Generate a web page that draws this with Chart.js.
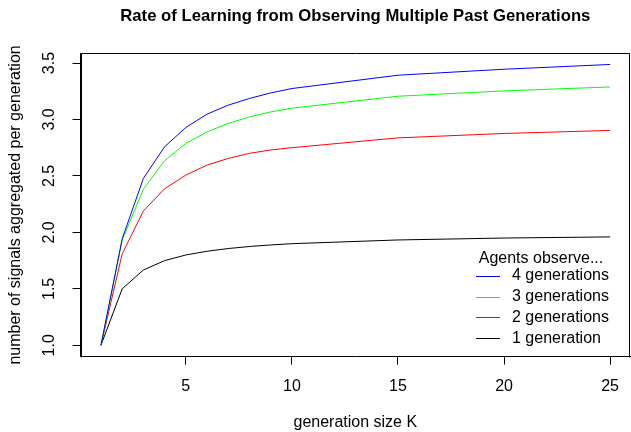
<!DOCTYPE html>
<html><head><meta charset="utf-8">
<script src="https://cdn.jsdelivr.net/npm/chart.js@4/dist/chart.umd.min.js"></script>
<style>html,body{margin:0;padding:0;background:#fff}canvas{display:block}</style>
</head><body>
<canvas id="c" width="631" height="432"></canvas>
<script>
const K = [1, 2, 3, 4, 5, 6, 7, 8, 9, 10, 15, 20, 25];
const gen4 = [1, 1.943, 2.478, 2.758, 2.929, 3.047, 3.127, 3.186, 3.235, 3.274, 3.392, 3.445, 3.487];
const gen3 = [1, 1.93, 2.383, 2.634, 2.788, 2.89, 2.965, 3.023, 3.067, 3.10, 3.206, 3.253, 3.288];
const gen2 = [1, 1.81, 2.19, 2.386, 2.507, 2.596, 2.655, 2.70, 2.73, 2.75, 2.837, 2.876, 2.903];
const gen1 = [1, 1.5, 1.667, 1.75, 1.8, 1.833, 1.857, 1.875, 1.889, 1.9, 1.933, 1.95, 1.96];
const xTicks = [5, 10, 15, 20, 25];
const yTicks = [1.0, 1.5, 2.0, 2.5, 3.0, 3.5];
const seriesLabels = ['4 generations', '3 generations', '2 generations', '1 generation'];
const seriesColors = ['#0000ff', '#00ff00', '#ff0000', '#000000'];
const titleText = 'Rate of Learning from Observing Multiple Past Generations';
const xTitle = 'generation size K';
const yTitle = 'number of signals aggregated per generation';
const legendTitle = 'Agents observe...';

const FONT = '"Liberation Sans", Arial, Helvetica, sans-serif';
const series = [gen4, gen3, gen2, gen1];

const datasets = series.map((s, i) => ({
  label: seriesLabels[i],
  data: K.map((k, j) => ({x: k, y: s[j]})),
  borderColor: seriesColors[i],
  backgroundColor: seriesColors[i],
  borderWidth: 1,
  pointRadius: 0,
  tension: 0,
  fill: false
}));

const rText = {
  id: 'rText',
  afterDraw(chart) {
    const ctx = chart.ctx, a = chart.chartArea, ys = chart.scales.y;
    ctx.save();
    // box
    ctx.strokeStyle = '#000'; ctx.lineWidth = 1;
    ctx.beginPath();
    const t = Math.round(a.top) + 0.5, l = Math.round(a.left) + 0.5;
    const r = Math.round(a.right) - 0.5, b = Math.round(a.bottom) + 0.5;
    ctx.moveTo(l, b); ctx.lineTo(l, t); ctx.lineTo(r, t); ctx.lineTo(r, b);
    ctx.stroke();
    ctx.fillStyle = '#000';
    // y tick labels rotated
    ctx.font = '16px ' + FONT;
    ctx.textAlign = 'center'; ctx.textBaseline = 'middle';
    yTicks.forEach(v => {
      const y = ys.getPixelForValue(v);
      ctx.save(); ctx.translate(50, y); ctx.rotate(-Math.PI / 2);
      ctx.fillText(v.toFixed(1), 0, 0); ctx.restore();
    });
    // y title
    ctx.save(); ctx.translate(16, (a.top + a.bottom) / 2); ctx.rotate(-Math.PI / 2);
    ctx.fillText(yTitle, 0, 0); ctx.restore();
    // x title
    ctx.fillText(xTitle, (a.left + a.right) / 2, 423);
    // main title
    ctx.font = 'bold 16.7px ' + FONT;
    ctx.fillText(titleText, (a.left + a.right) / 2, 16);
    // legend
    ctx.font = '16px ' + FONT;
    ctx.fillText(legendTitle, 541, 258.3);
    ctx.textAlign = 'left';
    seriesLabels.forEach((lab, i) => {
      const y = 275.7 + i * 20.8;
      ctx.strokeStyle = seriesColors[i];
      ctx.beginPath(); ctx.moveTo(476, Math.round(y) + 0.5); ctx.lineTo(500, Math.round(y) + 0.5); ctx.stroke();
      ctx.fillStyle = '#000';
      ctx.fillText(lab, 512, y);
    });
    ctx.restore();
  }
};

new Chart(document.getElementById('c'), {
  type: 'line',
  data: {datasets},
  options: {
    responsive: false,
    animation: false,
    events: [],
    layout: {padding: {top: 53.3, left: 0, right: 0, bottom: 0}},
    plugins: {legend: {display: false}, title: {display: false}, tooltip: {enabled: false}},
    scales: {
      x: {
        type: 'linear', min: 0.04, max: 25.94,
        afterBuildTicks: s => { s.ticks = xTicks.map(v => ({value: v})); },
        afterFit: s => { s.height = 432 - 356.6; },
        ticks: {autoSkip: false, maxRotation: 0, minRotation: 0, color: '#000', padding: 12,
          font: {family: FONT, size: 16}, callback: v => String(v)},
        grid: {display: true, drawOnChartArea: false, drawTicks: true, tickLength: 8, color: '#000', lineWidth: 1},
        border: {display: true, color: '#000', width: 1}
      },
      y: {
        type: 'linear', min: 0.9, max: 3.586,
        afterBuildTicks: s => { s.ticks = yTicks.map(v => ({value: v})); },
        afterFit: s => { s.width = 80.6; },
        ticks: {display: false},
        grid: {display: true, drawOnChartArea: false, drawTicks: true, tickLength: 8, color: '#000', lineWidth: 1},
        border: {display: true, color: '#000', width: 1}
      }
    }
  },
  plugins: [rText]
});
</script>
</body></html>
